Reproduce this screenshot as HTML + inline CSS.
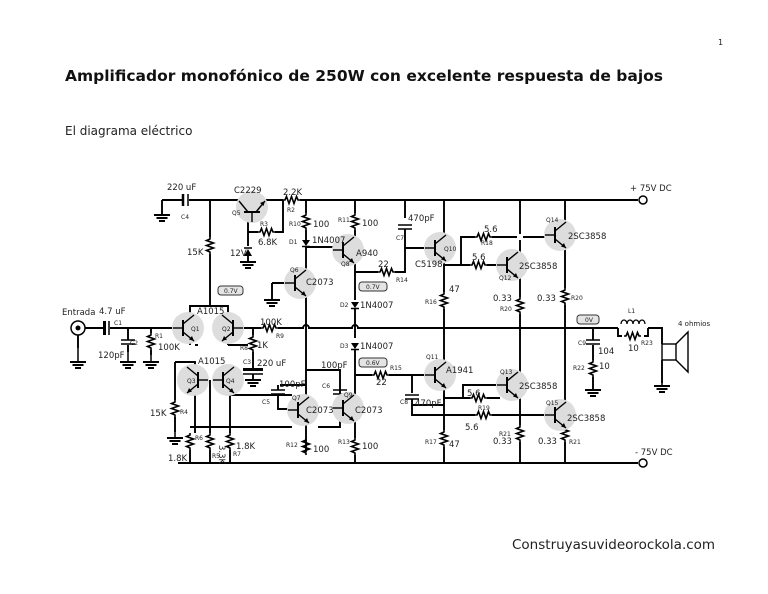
<!DOCTYPE html>
<html><head><meta charset="utf-8"><style>
html,body{margin:0;padding:0;background:#fff;width:768px;height:594px;overflow:hidden}
svg{position:absolute;left:0;top:0}
text{font-family:"DejaVu Sans","Liberation Sans",sans-serif;fill:#222}
.s{font-size:8.5px}.t{font-size:6px}
</style></head><body>
<svg width="768" height="594" viewBox="0 0 768 594" xmlns="http://www.w3.org/2000/svg">
<defs>
<g id="rh"><polyline points="0,0 2,0 3.5,-3.5 6,3.5 8.5,-3.5 11,3.5 13.5,-3.5 15,0 17,0" fill="none" stroke="#000" stroke-width="1.6"/></g>
<g id="rv"><polyline points="0,0 0,2 -3.5,3.5 3.5,6 -3.5,8.5 3.5,11 -3.5,13.5 0,15 0,17" fill="none" stroke="#000" stroke-width="1.6"/></g>
<g id="gnd"><line x1="-8" y1="0" x2="8" y2="0" stroke="#000" stroke-width="2"/><line x1="-5.5" y1="3" x2="5.5" y2="3" stroke="#000" stroke-width="2"/><line x1="-3" y1="6" x2="3" y2="6" stroke="#000" stroke-width="2"/></g>
<g id="tr"><circle r="16" fill="#ddd"/><line x1="-5" y1="-8" x2="-5" y2="8" stroke="#000" stroke-width="2"/><line x1="-15" y1="0" x2="-5" y2="0" stroke="#000" stroke-width="1.4"/><line x1="-5" y1="-4" x2="6" y2="-13" stroke="#000" stroke-width="1.4"/><line x1="-5" y1="4" x2="6" y2="13" stroke="#000" stroke-width="1.4"/><polygon points="6,13 1,11.5 4,8" fill="#000"/></g>
<g id="cv"><line x1="-7" y1="0" x2="7" y2="0" stroke="#000" stroke-width="1.5"/><line x1="-7" y1="4" x2="7" y2="4" stroke="#000" stroke-width="1.5"/></g>
<g id="dd"><polygon points="-4,-3 4,-3 0,3" fill="#000"/><line x1="-4" y1="3.5" x2="4" y2="3.5" stroke="#000" stroke-width="1.5"/></g>
</defs>
<text x="718" y="45" style="font-size:8px">1</text>
<text x="65" y="81" style="font-size:15.5px;font-weight:bold;fill:#111">Amplificador monofónico de 250W con excelente respuesta de bajos</text>
<text x="65" y="135" style="font-size:12px">El diagrama eléctrico</text>
<text x="512" y="549" style="font-size:13.5px">Construyasuvideorockola.com</text>

<g stroke="#000" stroke-width="1.9" fill="none">
<path d="M162,200 H182 M189,200 H283 M300,200 H638"/>
<path d="M178,463 H638"/>
<circle cx="643" cy="200" r="4" fill="#fff" stroke-width="1.5"/><circle cx="643" cy="463" r="4" fill="#fff" stroke-width="1.5"/>
<path d="M162,200 V215"/>
<path d="M183,194 V206" stroke-width="2.5"/><path d="M188,194 V206" stroke-width="1.5"/>
<path d="M210,200 V237 M210,254 V306"/>
<path d="M248,213 V232 V246 M248,232 H258 M275,232 H283 V200"/>
<path d="M248,256 V262"/>
<path d="M306,200 V213 M306,230 V240 M306,247 V452"/>
<path d="M306,247 H335 M272,283 V300 M272,283 H292"/>
<path d="M355,200 V213 M355,230 V240 M355,262 V300 M355,309 V338 M355,350 V396 M355,420 V438 M355,455 V463"/>
<path d="M355,272 H378 M395,272 H405 V229 M405,200 V218"/>
<path d="M405,248 H428 M444,200 V236 M444,260 V292 M444,309 V362 M444,388 V430 M444,447 V463"/>
<path d="M444,265 H470 M487,265 H500 M461,265 V237 H475 M492,237 H517 M523,237 H548"/>
<path d="M520,200 V234 M520,240 V252 M520,278 V297 M520,314 V372 M520,398 V425 M520,442 V463"/>
<path d="M565,200 V222 M565,248 V288 M565,305 V402 M565,428 V425 M565,442 V463"/>
<path d="M232,328 H261 M278,328 H303 A3,3 0 0 1 309,328 H352 A3,3 0 0 1 358,328 H618 M648,328 H662 V344"/>
<path d="M238,328 H248 M253,328 V335 M253,352 V368 M253,374 V380"/>
<path d="M82,328 H103 M110,328 H178"/>
<path d="M78,332 V348 M128,328 V340 M128,345 V352 M151,328 V333 M151,350 V355"/>
<path d="M190,318 V306 H228 V318 M190,338 V345 M228,338 V345"/>
<path d="M175,362 H195 V368 M175,362 V400 M175,417 V432"/>
<path d="M195,392 V433 M210,380 V433 M230,392 V433"/>
<path d="M228,345 H248 M195,345 H198"/>
<path d="M190,450 V463 M210,450 V463 M230,450 V463"/>
<path d="M190,427 H292 M318,427 H340 V412"/>
<path d="M230,392 V395 M230,395 H292"/>
<path d="M278,385 V390 M278,395 V409 H292"/>
<path d="M306,385 H280 M306,370 H340 V394 M340,396 V408"/>
<path d="M372,375 H356 M389,375 H412 V393 M412,399 V405 H444"/>
<path d="M412,375 H428 M444,395 V400 M444,398 H470 M487,398 H500 M463,398 V385 H500"/>
<path d="M412,405 V415 H475 M492,415 H548"/>
<path d="M593,328 V340 M593,345 V360 M593,377 V390"/>
<path d="M618,328 V336 H622 M648,328 V336 H644"/>
<path d="M621,324 a3,4 0 0 1 6,0 a3,4 0 0 1 6,0 a3,4 0 0 1 6,0 a3,4 0 0 1 6,0" stroke-width="1.3"/>
<rect x="662" y="344" width="14" height="16" stroke-width="1.4"/>
<path d="M676,344 L688,332 V372 L676,360" stroke-width="1.4"/>
<path d="M662,360 V383"/>
</g>
<use href="#rh" x="283" y="200"/><use href="#rh" x="258" y="232"/><use href="#rv" x="210" y="237"/>
<use href="#rv" x="306" y="213"/><use href="#rv" x="355" y="213"/><use href="#rh" x="378" y="272"/>
<use href="#rv" x="151" y="333"/><use href="#rh" x="261" y="328"/><use href="#rv" x="253" y="335"/>
<use href="#rv" x="175" y="400"/><use href="#rv" x="190" y="433"/><use href="#rv" x="210" y="433"/><use href="#rv" x="230" y="433"/>
<use href="#rv" x="306" y="438"/><use href="#rv" x="355" y="438"/><use href="#rh" x="372" y="375"/>
<use href="#rv" x="444" y="292"/><use href="#rv" x="444" y="430"/>
<use href="#rh" x="475" y="237"/><use href="#rh" x="470" y="265"/><use href="#rh" x="470" y="398"/><use href="#rh" x="475" y="415"/>
<use href="#rv" x="520" y="297"/><use href="#rv" x="565" y="288"/><use href="#rv" x="520" y="425"/><use href="#rv" x="565" y="425"/>
<use href="#rv" x="593" y="360"/><use href="#rh" x="624" y="336"/>
<use href="#cv" x="128" y="340"/><use href="#cv" x="405" y="225"/><use href="#cv" x="278" y="390"/><use href="#cv" x="340" y="390"/><use href="#cv" x="412" y="395"/><use href="#cv" x="593" y="340"/>
<rect x="103" y="321" width="3" height="14" fill="#000"/><line x1="109" y1="321" x2="109" y2="335" stroke="#000" stroke-width="1.5"/>
<rect x="243" y="368" width="20" height="3" fill="#000"/><line x1="243" y1="374" x2="263" y2="374" stroke="#000" stroke-width="1.5"/>
<use href="#dd" x="306" y="243"/><use href="#dd" x="355" y="305"/><use href="#dd" x="355" y="346"/>
<polygon points="244,256 252,256 248,249" fill="#000"/><line x1="244" y1="248" x2="252" y2="248" stroke="#000" stroke-width="1.5"/>
<use href="#gnd" x="162" y="215"/><use href="#gnd" x="248" y="262"/><use href="#gnd" x="272" y="300"/>
<use href="#gnd" x="78" y="362"/><use href="#gnd" x="128" y="362"/><use href="#gnd" x="151" y="362"/><use href="#gnd" x="253" y="380"/>
<use href="#gnd" x="175" y="438"/><use href="#gnd" x="593" y="390"/><use href="#gnd" x="662" y="386"/>
<line x1="78" y1="348" x2="78" y2="362" stroke="#000" stroke-width="1.5"/><line x1="128" y1="352" x2="128" y2="362" stroke="#000" stroke-width="1.5"/><line x1="151" y1="355" x2="151" y2="362" stroke="#000" stroke-width="1.5"/><line x1="175" y1="432" x2="175" y2="438" stroke="#000" stroke-width="1.5"/><line x1="662" y1="383" x2="662" y2="386" stroke="#000" stroke-width="1.5"/>
<circle cx="78" cy="328" r="7" fill="#fff" stroke="#000" stroke-width="1.5"/><circle cx="78" cy="328" r="2.5" fill="#000"/>
<use href="#tr" x="252" y="207" transform="rotate(-90 252 207)"/>
<use href="#tr" x="300" y="283"/><use href="#tr" x="348" y="250"/>
<use href="#tr" x="188" y="328"/><use href="#tr" x="228" y="328" transform="scale(-1,1) translate(-456,0)"/>
<use href="#tr" x="193" y="380" transform="scale(-1,1) translate(-386,0)"/><use href="#tr" x="228" y="380"/>
<use href="#tr" x="303" y="410"/><use href="#tr" x="348" y="408"/>
<use href="#tr" x="440" y="248"/><use href="#tr" x="440" y="375"/>
<use href="#tr" x="512" y="265"/><use href="#tr" x="560" y="235"/><use href="#tr" x="512" y="385"/><use href="#tr" x="560" y="415"/>
<g fill="#e4e4e4" stroke="#333" stroke-width="1"><rect x="218" y="286" width="25" height="9" rx="3"/><rect x="359" y="282" width="28" height="9" rx="3"/><rect x="359" y="358" width="28" height="9" rx="3"/><rect x="577" y="315" width="22" height="9" rx="3"/></g>
<g class="t"><text x="224" y="293">0.7V</text><text x="366" y="289">0.7V</text><text x="366" y="365">0.6V</text><text x="585" y="322">0V</text></g>
<g class="s">
<text x="167" y="190">220 uF</text><text x="234" y="193">C2229</text><text x="283" y="195">2.2K</text>
<text x="258" y="245">6.8K</text><text x="230" y="256">12V</text><text x="187" y="255">15K</text>
<text x="313" y="227">100</text><text x="312" y="243">1N4007</text><text x="306" y="285">C2073</text>
<text x="362" y="226">100</text><text x="356" y="256">A940</text><text x="378" y="267">22</text>
<text x="408" y="221">470pF</text><text x="415" y="267">C5198</text><text x="484" y="232">5.6</text><text x="472" y="260">5.6</text>
<text x="568" y="239">2SC3858</text><text x="519" y="269">2SC3858</text><text x="449" y="292">47</text>
<text x="493" y="301">0.33</text><text x="537" y="301">0.33</text><text x="630" y="191">+ 75V DC</text>
<text x="360" y="308">1N4007</text><text x="360" y="349">1N4007</text>
<text x="62" y="315">Entrada</text><text x="99" y="314">4.7 uF</text><text x="197" y="314">A1015</text><text x="260" y="325">100K</text>
<text x="98" y="358">120pF</text><text x="158" y="350">100K</text><text x="257" y="348">1K</text><text x="257" y="366">220 uF</text>
<text x="198" y="364">A1015</text><text x="321" y="368">100pF</text><text x="376" y="385">22</text><text x="446" y="373">A1941</text>
<text x="279" y="387">100pF</text><text x="306" y="413">C2073</text><text x="355" y="413">C2073</text>
<text x="415" y="406">470pF</text><text x="467" y="396">5.6</text><text x="465" y="430">5.6</text>
<text x="519" y="389">2SC3858</text><text x="567" y="421">2SC3858</text>
<text x="150" y="416">15K</text><text x="168" y="461">1.8K</text><text x="236" y="449">1.8K</text>
<text x="313" y="452">100</text><text x="362" y="449">100</text><text x="449" y="447">47</text>
<text x="493" y="444">0.33</text><text x="538" y="444">0.33</text><text x="635" y="455">- 75V DC</text>
<text x="598" y="354">104</text><text x="599" y="369">10</text><text x="628" y="351">10</text>
</g>
<text x="219" y="445" class="s" transform="rotate(90 219 445)">3.3K</text>
<g class="t">
<text x="181" y="219">C4</text><text x="232" y="215">Q5</text><text x="287" y="212">R2</text><text x="260" y="226">R3</text>
<text x="289" y="226">R10</text><text x="289" y="244">D1</text><text x="290" y="272">Q6</text><text x="338" y="222">R11</text><text x="341" y="266">Q8</text>
<text x="396" y="282">R14</text><text x="396" y="240">C7</text><text x="444" y="251">Q10</text><text x="481" y="245">R18</text><text x="499" y="280">Q12</text>
<text x="546" y="222">Q14</text><text x="425" y="304">R16</text><text x="500" y="311">R20</text><text x="571" y="300">R20</text><text x="340" y="307">D2</text>
<text x="114" y="325">C1</text><text x="130" y="345">C2</text><text x="155" y="338">R1</text><text x="191" y="331">Q1</text><text x="222" y="331">Q2</text>
<text x="240" y="350">R8</text><text x="276" y="338">R9</text><text x="243" y="364">C3</text><text x="340" y="348">D3</text><text x="390" y="370">R15</text>
<text x="426" y="359">Q11</text><text x="187" y="383">Q3</text><text x="226" y="383">Q4</text><text x="262" y="404">C5</text><text x="292" y="400">Q7</text>
<text x="322" y="388">C6</text><text x="344" y="397">Q9</text><text x="400" y="404">C8</text><text x="478" y="410">R19</text><text x="500" y="374">Q13</text>
<text x="546" y="405">Q15</text><text x="180" y="414">R4</text><text x="195" y="440">R6</text><text x="212" y="458">R5</text><text x="233" y="456">R7</text>
<text x="286" y="447">R12</text><text x="338" y="444">R13</text><text x="425" y="444">R17</text><text x="499" y="436">R21</text><text x="569" y="444">R21</text>
<text x="628" y="313">L1</text><text x="641" y="345">R23</text><text x="578" y="345">C9</text><text x="573" y="370">R22</text>
</g>
<text x="678" y="326" style="font-size:7px">4 ohmios</text>
</svg>
</body></html>
